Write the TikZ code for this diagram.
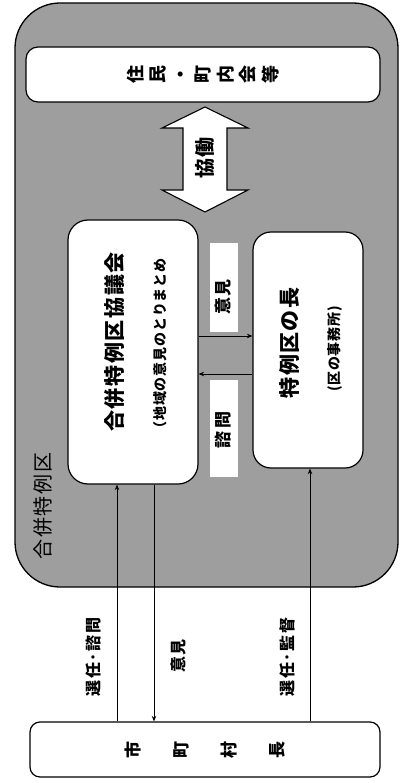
\documentclass[tikz,border=0pt]{standalone}
\usepackage{fontspec}
\newfontfamily\jp{Noto Sans CJK JP}
\usetikzlibrary{arrows.meta}
\begin{document}
\begin{tikzpicture}[x=1pt,y=-1pt,
  box/.style={draw=black, line width=1.2pt, fill=white, inner sep=0pt},
  vtext/.style={rotate=90, inner sep=0pt, align=center},
  arr/.style={line width=1pt, -{Stealth[length=5.5pt,width=4.5pt]}},
  hatch/.style={fill=black!38}]
\useasboundingbox (0,0) rectangle (409,783);
% outer region
\node[draw=black, line width=1.3pt, hatch, rounded corners=45pt, inner sep=0pt,
      minimum width=383pt, minimum height=584pt] (region) at (206.5,295) {};
% top box
\node[box, rounded corners=12pt, minimum width=354pt, minimum height=55pt] (jumin) at (203,74.5) {};
\node[vtext, font=\jp\bfseries\fontsize{18}{22.5}\selectfont] (jumint) at (jumin.center) {住\\民\\・\\町\\内\\会\\等};
% double arrow
\draw[line width=1.1pt, fill=white] (205,107) -- (248,128) -- (227,128) -- (227,190) -- (248,190)
  -- (205,212) -- (162,190) -- (183,190) -- (183,128) -- (162,128) -- cycle;
\node[vtext, font=\jp\bfseries\fontsize{20}{20}\selectfont\addfontfeature{LetterSpace=6}] (kyodo) at (205,158) {協働};
% inner boxes
\node[box, rounded corners=20pt, minimum width=130pt, minimum height=264pt] (kyogikai) at (133,352) {};
\node[box, rounded corners=18pt, minimum width=110pt, minimum height=236pt] (cho) at (308,350) {};
\node[vtext, font=\jp\bfseries\fontsize{21}{21}\selectfont\addfontfeature{LetterSpace=8}] (kyogikait) at (115,342) {合併特例区協議会};
\node[vtext, font=\jp\bfseries\fontsize{14}{14}\selectfont\addfontfeature{LetterSpace=6}] (kyogikaisub) at (160,347) {（地域の意見のとりまとめ};
\node[vtext, font=\jp\bfseries\fontsize{21}{21}\selectfont\addfontfeature{LetterSpace=7}] (chot) at (290,343) {特例区の長};
\node[vtext, font=\jp\bfseries\fontsize{14}{14}\selectfont\addfontfeature{LetterSpace=5}] (chosub) at (335,349) {(区の事務所)};
% middle labels
\node[fill=white, inner sep=0pt, minimum width=28pt, minimum height=89pt] (ikenbox) at (224,287.5) {};
\node[fill=white, inner sep=0pt, minimum width=28pt, minimum height=97pt] (shimonbox) at (224,428.5) {};
\node[vtext, font=\jp\bfseries\fontsize{17}{17}\selectfont\addfontfeature{LetterSpace=10}] (ikent) at (223,297) {意見};
\node[vtext, font=\jp\bfseries\fontsize{17}{17}\selectfont\addfontfeature{LetterSpace=18}] (shimont) at (223,430) {諮問};
\coordinate (ya) at (0,336);
\coordinate (yb) at (0,374);
\draw[arr] (kyogikai.east |- ya) -- (cho.west |- ya);
\draw[arr] (cho.west |- yb) -- (kyogikai.east |- yb);
% region label
\node[vtext, font=\jp\fontsize{20}{20}\selectfont\addfontfeature{LetterSpace=8}] (regiont) at (43,506) {合併特例区};
% bottom box
\node[box, rounded corners=10pt, minimum width=350pt, minimum height=55pt] (shichoson) at (205,749.5) {};
\node[vtext, font=\jp\bfseries\fontsize{17}{48}\selectfont] (shichosont) at (shichoson.center) {市\\町\\村\\長};
% bottom arrows
\coordinate (xa) at (117,0);
\coordinate (xb) at (154,0);
\coordinate (xc) at (310,0);
\draw[arr] (shichoson.north -| xa) -- (kyogikai.south -| xa);
\draw[arr] (kyogikai.south -| xb) -- (shichoson.north -| xb);
\draw[arr] (shichoson.north -| xc) -- (cho.south -| xc);
\node[vtext, font=\jp\bfseries\fontsize{16}{16}\selectfont\addfontfeature{LetterSpace=10}] (l1) at (93,657) {選任･諮問};
\node[vtext, font=\jp\bfseries\fontsize{16}{16}\selectfont\addfontfeature{LetterSpace=10}] (l2) at (178,656) {意見};
\node[vtext, font=\jp\bfseries\fontsize{16}{16}\selectfont\addfontfeature{LetterSpace=10}] (l3) at (287,657) {選任･監督};
\end{tikzpicture}
\end{document}
